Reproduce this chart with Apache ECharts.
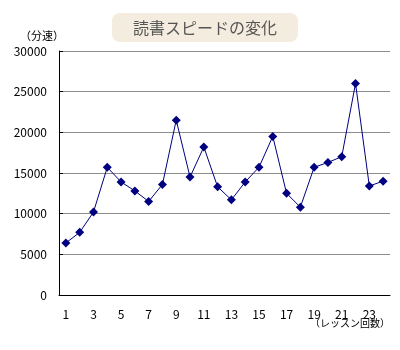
<!DOCTYPE html>
<html>
<head>
<meta charset="utf-8">
<script src="https://cdn.jsdelivr.net/npm/echarts@6/dist/echarts.min.js"></script>
<style>
  html, body { margin: 0; padding: 0; background: #fff; }
  #chart { width: 400px; height: 350px; }
</style>
</head>
<body>
<div id="chart"></div>
<script>
// Reading speed per lesson
const lessons = Array.from({ length: 24 }, (_, i) => String(i + 1));
const speeds = [6400, 7700, 10200, 15700, 13900, 12800, 11500, 13600, 21500, 14500,
                18200, 13300, 11700, 13900, 15700, 19500, 12500, 10800, 15700, 16300,
                17000, 26000, 13400, 14000];
const yTicks = [0, 5000, 10000, 15000, 20000, 25000, 30000];

const titleText = '読書スピードの変化';
const yUnit = '（分速）';
const xUnit = '（レッスン回数）';

const FONT = '"Noto Sans CJK JP", "DejaVu Sans", sans-serif';

const chart = echarts.init(document.getElementById('chart'), null, { renderer: 'canvas' });

chart.setOption({
  animation: false,
  backgroundColor: '#ffffff',
  title: {
    text: titleText,
    left: 112,
    top: 13,
    padding: [6, 21, 6, 21],
    backgroundColor: '#f3ecdf',
    borderRadius: 8,
    textStyle: { color: '#555555', fontSize: 16, fontWeight: 'normal', fontFamily: FONT, lineHeight: 17 }
  },
  grid: { left: 59, right: 10, top: 51, bottom: 55, containLabel: false },
  xAxis: {
    type: 'category',
    data: lessons,
    boundaryGap: true,
    axisLine: { lineStyle: { color: '#000', width: 1 } },
    axisTick: { inside: true, length: 4, lineStyle: { color: '#000' }, interval: 0 },
    axisLabel: {
      interval: 1,
      color: '#000',
      fontSize: 12,
      fontFamily: FONT,
      margin: 13
    },
    splitLine: { show: false }
  },
  yAxis: {
    type: 'value',
    min: yTicks[0],
    max: yTicks[yTicks.length - 1],
    interval: yTicks[1] - yTicks[0],
    axisLine: { show: true, lineStyle: { color: '#000', width: 1 } },
    axisTick: { show: true, inside: true, length: 4, lineStyle: { color: '#000' } },
    axisLabel: {
      color: '#000', fontSize: 12, fontFamily: FONT, margin: 12,
      formatter: (v) => String(v)
    },
    splitLine: { show: true, lineStyle: { color: '#8c8c8c', width: 1 } }
  },
  graphic: [
    {
      type: 'text',
      left: 20,
      top: 30,
      style: { text: yUnit, fill: '#000', font: '11px ' + FONT }
    },
    {
      type: 'text',
      right: 10,
      top: 318,
      style: { text: xUnit, fill: '#000', font: '10px ' + FONT }
    }
  ],
  series: [{
    type: 'line',
    data: speeds,
    symbol: 'diamond',
    symbolSize: 9,
    lineStyle: { color: '#000080', width: 1 },
    itemStyle: { color: '#000080' },
    emphasis: { disabled: true }
  }]
});
</script>
</body>
</html>
